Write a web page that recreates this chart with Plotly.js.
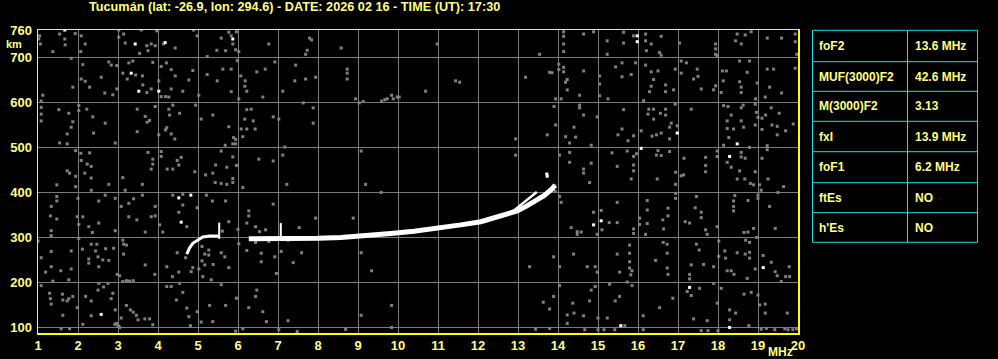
<!DOCTYPE html>
<html>
<head>
<meta charset="utf-8">
<script src="https://cdn.plot.ly/plotly-3.0.1.min.js"></script>
<style>html,body{margin:0;padding:0;background:#000;}</style>
</head>
<body>
<div id="chart" style="width:998px;height:359px;"></div>
<script>
// ---------- data ----------
const titleText = "Tucumán (lat: -26.9, lon: 294.6) - DATE: 2026 02 16 - TIME (UT): 17:30";
const xTicks = [1,2,3,4,5,6,7,8,9,10,11,12,13,14,15,16,17,18,19,20];
const yTicks = [100,200,300,400,500,600,700,760];

const tableLabels = ["foF2", "MUF(3000)F2", "M(3000)F2", "fxI", "foF1", "ftEs", "h'Es"];
const tableValues = ["13.6 MHz", "42.6 MHz", "3.13", "13.9 MHz", "6.2 MHz", "NO", "NO"];

// echo traces (frequency MHz, virtual height km)
const f1Freq   = [4.72, 4.79, 4.87, 5.00, 5.12, 5.29, 5.52];
const f1Height = [262, 276, 286, 294, 300, 302, 302];
const spike1Freq = [5.53, 5.53];
const spike1Height = [296, 332];
const f2Freq   = [6.27, 6.8, 7.32, 8.0, 8.57, 9.23, 9.82, 10.4, 10.98, 11.57, 12.07, 12.57, 12.98, 13.2, 13.45, 13.65, 13.85, 13.93];
const f2Height = [296, 296, 297, 297, 299, 303, 308, 313, 319, 327, 334, 346, 358, 368, 381, 392, 407, 415];
const f2bFreq   = [12.8, 13.07, 13.22, 13.47];
const f2bHeight = [352, 371, 383, 400];
const spike2Freq = [7.07, 7.07];
const spike2Height = [296, 331];

// background noise dots [MHz, km]
const noiseTopLeft = [[1.04,747],[1.06,729],[1.02,740],[1.54,751],[1.67,740],[1.68,727],[1.93,752],[1.37,712],[2.08,747],[2.18,729],[2.07,712],[3.02,760],[3.02,744],[3.14,751],[3.18,731],[3.58,760],[3.54,708],[3.72,725],[3.75,714],[3.83,729],[3.93,725],[3.97,758],[4.14,729],[4.43,720],[4.89,760],[4.98,747],[5.47,715],[5.58,742],[5.69,714],[5.77,755],[5.83,747],[5.87,729],[5.94,716],[6.02,712],[5.96,756],[6.77,729],[5.23,701],[1.83,697],
[2.12,683],[2.77,689],[2.83,682],[2.97,681],[3.27,687],[3.37,691],[3.87,688],[4.21,687],[4.08,679],[3.12,664],[3.44,660],[3.61,658],[3.23,651],[2.08,651],[2.18,646],[2.29,633],[2.58,655],[1.87,633],[2.67,620],[2.87,616],[2.97,629],[3.62,638],[3.83,629],[3.72,621],[4.02,647],[4.08,612],[4.19,612],[4.27,611],[4.33,629],[4.33,672],[4.43,658],[4.62,624],[4.77,649],[4.87,670],[5.02,615],[5.23,661],[5.48,647],[5.62,673],[5.83,673],[5.83,623],[6.07,658],[6.18,647],[6.17,635],[6.22,624],[6.47,667],[6.68,673],[6.62,611],[6.92,689],[7.12,624],[1.12,615],[1.08,602],[5.98,692],[6.02,607],
[1.08,588],[1.08,573],[1.08,558],[1.52,583],[1.77,575],[1.87,556],[1.83,544],[1.73,529],[1.54,509],[1.73,507],[2.02,592],[2.02,581],[2.22,584],[2.37,567],[2.39,531],[2.68,553],[2.93,509],[3.48,584],[3.48,534],[3.68,568],[3.79,559],[3.73,555],[3.93,590],[4.02,527],[4.22,543],[4.19,538],[4.33,529],[4.42,518],[4.27,584],[4.29,571],[4.37,593],[4.54,575],[4.94,593],[5.08,562],[5.37,571],[5.77,545],[5.89,521],[5.94,517],[6.12,523],[6.08,540],[6.22,583],[6.33,584],[6.17,562],[6.38,558],[6.22,540],[6.43,540],[5.94,507],[5.87,507],[5.68,504],[6.88,567],[7.02,562],
[1.94,492],[2.07,486],[2.29,487],[2.23,462],[2.08,470],[2.33,457],[2.17,442],[1.73,447],[1.79,442],[1.94,435],[2.33,431],[3.12,432],[3.75,488],[3.87,473],[3.87,462],[3.83,451],[4.08,490],[4.08,479],[4.23,451],[4.37,451],[4.58,477],[4.48,470],[4.52,460],[4.92,445],[5.19,438],[5.44,460],[5.58,491],[5.72,455],[5.37,442],[5.87,478],[5.96,459],[5.87,430],[6.52,473],[6.88,469],[7.12,482],[7.17,500]];

const noiseBottomLeft = [[1.47,416],[1.94,412],[2.33,404],[2.77,417],[3.18,404],[3.61,417],[5.43,421],[5.58,419],[5.72,417],[5.87,421],[6.12,410],[7.22,417],
[1.47,390],[1.47,380],[1.33,368],[1.31,347],[1.47,340],[1.33,314],[1.33,303],[2.00,386],[1.98,345],[2.02,328],[2.12,345],[2.27,323],[2.36,310],[2.52,331],[2.52,380],[2.68,393],[2.93,386],[2.93,314],[3.08,368],[3.27,375],[3.39,385],[3.27,345],[3.47,338],[3.61,393],[3.68,311],[3.83,345],[3.93,368],[3.93,347],[4.04,327],[4.12,311],[4.37,393],[4.62,395],[4.62,371],[4.52,355],[4.72,323],[4.98,365],[5.21,393],[5.36,380],[5.69,380],[5.77,334],[5.61,313],[6.00,317],[6.22,331],[6.27,358],[6.27,347],[6.44,323],[6.54,312],[6.69,316],[6.88,373],
[1.00,291],[1.33,268],[1.08,254],[1.19,222],[1.33,234],[1.37,202],[1.57,225],[1.77,205],[1.83,269],[1.83,229],[2.02,297],[2.11,273],[2.27,251],[2.27,242],[2.33,284],[2.47,284],[2.50,256],[2.44,269],[2.52,234],[2.62,249],[2.69,274],[2.77,248],[2.89,275],[2.98,217],[3.12,293],[3.14,284],[3.21,282],[3.14,262],[3.04,214],[3.21,203],[3.38,203],[3.68,238],[3.92,217],[4.22,234],[4.36,212],[4.48,265],[4.52,222],[4.69,254],[4.83,223],[4.87,232],[5.02,229],[5.10,279],[5.10,247],[5.12,212],[5.27,271],[5.27,260],[5.17,262],[5.17,238],[5.33,205],[5.38,239],[5.58,265],[5.67,256],[5.77,232],[6.02,285],[6.22,270],[6.44,288],[6.58,264],[6.58,245],[6.77,290],[6.92,256],[6.96,219],[7.08,268],[7.25,293],
[1.08,192],[1.29,175],[1.31,163],[1.33,151],[1.61,173],[1.62,160],[1.77,163],[1.73,158],[1.87,168],[1.98,143],[2.19,168],[2.33,158],[2.50,182],[2.52,197],[2.64,189],[2.87,175],[2.83,163],[2.75,197],[2.93,138],[2.33,125],[1.62,126],[2.12,106],[2.96,108],[3.08,120],[3.21,148],[3.31,138],[3.38,133],[3.46,126],[3.50,116],[3.67,118],[3.79,118],[3.87,105],[3.12,201],[3.29,202],[4.22,190],[4.33,190],[4.54,197],[4.62,177],[4.46,160],[4.72,142],[4.77,123],[4.81,103],[4.98,134],[5.08,111],[5.29,148],[5.37,112],[5.58,194],[5.69,148],[5.96,164],[6.27,143],[6.44,168],[6.47,182],[6.62,134],[6.71,112],[7.02,94],[7.25,114],[6.12,96],[5.94,91],[1.79,96],[1.58,96],[3.00,103],[2.92,106],[3.04,99],[3.02,101]];

const noiseMiddle = [[7.79,742],[7.84,738],[7.73,715],[7.69,706],[8.58,720],[10.98,729],[13.54,706],[7.44,682],[7.42,647],[7.69,651],[7.94,655],[8.73,673],[8.73,664],[8.73,651],[8.94,607],[9.03,598],[9.13,601],[9.59,602],[9.67,605],[9.73,607],[9.84,615],[9.88,607],[9.98,611],[10.03,611],[10.69,624],[11.44,647],[11.54,644],[13.19,655],[7.63,598],[7.88,587],[7.88,553],[9.08,491],[12.94,518],[12.94,482],
[9.19,417],[9.58,399],[7.94,342],[8.88,342],[7.53,321],[7.59,265],[7.38,243],[9.08,265],[9.34,225],[13.29,234],[9.84,148],[9.08,126],[8.69,95],[9.84,99],[13.44,95],[13.63,155],[7.48,90]];

const noiseTopRight = [[14.14,756],[14.14,746],[14.14,729],[14.14,712],[14.64,751],[14.89,756],[15.23,736],[15.23,706],[15.64,755],[15.64,731],[15.89,747],[16.19,751],[16.19,736],[16.33,729],[16.21,714],[16.58,746],[16.54,710],[16.58,704],[17.04,731],[17.94,729],[17.94,718],[17.94,706],[17.98,703],[18.48,751],[18.44,736],[18.68,749],[18.83,756],[18.58,729],[19.23,742],[19.59,742],[19.93,751],[19.93,734],[19.97,706],
[13.79,666],[14.02,684],[14.02,672],[14.14,677],[14.14,667],[14.19,644],[14.23,650],[14.23,627],[14.54,615],[14.64,669],[15.04,658],[15.04,640],[15.04,614],[15.25,607],[15.44,678],[15.60,687],[15.60,656],[15.83,661],[15.94,687],[16.19,682],[16.33,667],[16.39,650],[16.29,623],[16.33,635],[16.50,669],[16.69,638],[16.69,623],[16.89,627],[16.93,673],[17.08,691],[17.08,664],[17.21,687],[17.39,651],[17.48,673],[17.50,657],[17.58,629],[17.89,627],[17.94,636],[18.11,669],[18.21,669],[18.08,621],[18.13,647],[18.54,691],[18.54,645],[18.58,633],[18.58,621],[18.73,666],[18.79,691],[18.98,642],[18.94,607],[19.23,673],[19.39,673],[19.29,633],[19.18,611],[19.59,620],[19.93,675],[16.14,603],[13.94,607],[14.08,607],[13.85,665],
[13.90,590],[13.94,549],[13.73,527],[14.19,523],[14.29,509],[14.44,522],[14.40,544],[14.54,593],[14.54,587],[14.64,571],[14.83,504],[14.98,567],[15.64,583],[15.60,540],[15.50,527],[15.75,514],[15.89,525],[16.08,536],[16.25,573],[16.27,584],[16.39,584],[16.39,562],[16.56,575],[16.69,584],[16.69,571],[16.83,553],[16.79,544],[16.79,518],[16.58,531],[16.35,524],[16.46,527],[16.98,547],[16.93,595],[17.33,584],[18.14,592],[18.25,590],[18.33,571],[18.23,558],[18.23,541],[18.39,540],[18.27,521],[18.14,504],[18.58,587],[18.63,593],[18.58,558],[18.64,544],[18.93,595],[18.96,577],[18.93,549],[19.00,566],[19.10,564],[19.10,539],[19.19,571],[19.33,587],[19.35,549],[19.48,546],[19.48,527],[19.69,536],[19.53,575],[19.88,551],[18.79,499],
[14.04,482],[14.29,488],[14.29,466],[14.64,451],[14.64,442],[14.83,464],[15.35,487],[15.48,457],[15.73,491],[15.89,479],[15.89,460],[15.89,447],[15.96,485],[16.50,492],[16.58,481],[16.46,482],[16.79,490],[16.94,444],[17.08,436],[17.14,438],[17.15,475],[17.69,477],[17.69,459],[17.69,445],[17.98,491],[17.98,479],[18.23,466],[18.33,455],[18.58,488],[18.58,478],[18.68,475],[18.54,447],[18.93,445],[19.10,475],[19.23,503],[19.23,494],[18.48,429],[18.67,429],[19.25,429],[16.48,429],[15.83,429]];

const noiseBottomRight = [[14.79,421],[16.94,417],[16.94,397],[16.94,386],[17.46,390],[17.43,365],[17.58,355],[17.58,343],[17.18,334],[17.29,331],[17.69,316],[17.73,306],[17.98,323],[18.42,392],[18.39,380],[18.39,368],[18.39,358],[18.75,381],[18.65,310],[18.75,311],[18.89,319],[19.00,393],[19.00,386],[19.04,416],[19.08,404],[18.81,419],[18.89,416],[19.43,319],[19.64,412],[19.50,399],[19.29,368],[14.08,377],[14.33,321],[14.48,312],[14.48,306],[14.58,311],[14.89,355],[15.08,359],[15.28,332],[15.48,377],[15.48,332],[15.10,316],[14.98,306],[15.89,318],[15.89,308],[16.04,342],[16.04,328],[16.23,330],[16.19,306],[16.23,381],[16.23,360],[16.62,338],[16.64,318],[16.75,364],[16.75,347],[13.93,401],[13.92,414],[14.04,390],
[13.89,256],[14.04,234],[14.39,262],[14.73,234],[14.93,234],[14.98,222],[15.54,222],[15.48,262],[15.79,282],[15.79,264],[15.79,245],[15.79,231],[15.82,216],[15.85,225],[16.44,248],[16.63,288],[16.73,284],[16.73,264],[16.73,231],[16.75,217],[17.46,284],[17.53,271],[17.33,238],[17.29,217],[17.29,207],[17.64,239],[17.89,234],[18.02,291],[18.02,257],[18.17,269],[18.19,253],[18.23,225],[18.33,225],[18.40,217],[18.48,265],[18.69,293],[18.79,288],[18.68,262],[18.79,266],[18.79,253],[18.93,229],[18.73,208],[19.13,259],[19.33,244],[19.43,223],[19.48,214],[19.69,212],[19.79,212],[19.78,234],[19.58,201],[18.97,299],
[13.89,168],[13.79,140],[14.04,192],[14.23,127],[14.23,108],[14.37,153],[14.40,131],[14.64,125],[14.79,158],[14.83,182],[14.93,190],[15.00,120],[15.23,120],[15.29,195],[15.43,158],[15.54,168],[15.67,103],[15.85,192],[15.73,200],[16.13,125],[16.54,143],[16.87,164],[17.23,179],[17.33,170],[17.39,118],[17.54,186],[17.73,114],[17.89,197],[17.98,153],[18.08,186],[18.29,138],[18.29,116],[18.44,131],[18.65,173],[18.77,103],[18.83,177],[19.00,171],[19.04,149],[19.18,151],[19.18,131],[19.73,131],[19.67,96],[19.75,94],[19.87,94],[19.96,96],[19.42,94],[19.21,97],[19.08,95],[13.79,97],[14.67,94],[15.00,94],[15.15,94],[15.42,94],[16.13,94],[17.58,92],[17.75,92],[18.00,92]];

const whiteDots = [[1.67,760],[3.43,729],[4.18,732],[5.87,740],[3.33,664],[3.52,624],[4.02,624],[4.52,387],[4.82,393],[4.58,333],[2.58,128],[15.98,747],[15.98,734],[16.98,531],[18.48,507],[13.73,435],[13.72,440],[16.08,497],[18.29,479],[14.89,327],[15.08,336],[19.13,232],[15.57,103],[17.29,188],[18.29,99]];

// ---------- drawing ----------
const TXT = '#ffff80';
const FONT = 'Liberation Sans, Arial, sans-serif';
const grayPts = [].concat(noiseTopLeft, noiseBottomLeft, noiseMiddle, noiseTopRight, noiseBottomRight);

const traces = [
  {type:'scatter', mode:'markers', x:grayPts.map(p=>p[0]), y:grayPts.map(p=>p[1]),
   marker:{symbol:'square', size:3, color:'#808080', line:{width:0}}, hoverinfo:'skip', cliponaxis:true},
  {type:'scatter', mode:'markers', x:whiteDots.map(p=>p[0]), y:whiteDots.map(p=>p[1]),
   marker:{symbol:'square', size:3, color:'#ffffff', line:{width:0}}, hoverinfo:'skip'},
  {type:'scatter', mode:'lines', x:f1Freq, y:f1Height, line:{color:'#ffffff', width:3}, hoverinfo:'skip'},
  {type:'scatter', mode:'lines', x:spike1Freq, y:spike1Height, line:{color:'#ffffff', width:2}, hoverinfo:'skip'},
  {type:'scatter', mode:'lines', x:f2Freq, y:f2Height, line:{color:'#ffffff', width:5}, hoverinfo:'skip'},
  {type:'scatter', mode:'lines', x:f2bFreq, y:f2bHeight, line:{color:'#ffffff', width:2.5}, hoverinfo:'skip'},
  {type:'scatter', mode:'lines', x:spike2Freq, y:spike2Height, line:{color:'#ffffff', width:2}, hoverinfo:'skip'}
];

const L = 38, R = 200, T = 30, B = 26, W = 998, H = 359;
const pw = W - L - R, ph = H - T - B;
const xp = px => (px - L) / pw;
const yp = py => (H - B - py) / ph;

const shapes = [];
const annotations = [];
const rowEdges = [30.3, 61.7, 91.3, 121.3, 151.7, 182.7, 212.7, 242.3];
const cyan = '#20e0e0';
shapes.push({type:'rect', xref:'paper', yref:'paper', x0:xp(812.5), x1:xp(977.5), y0:yp(rowEdges[0]), y1:yp(rowEdges[rowEdges.length-1]), line:{color:cyan, width:1}});
shapes.push({type:'line', xref:'paper', yref:'paper', x0:xp(907.5), x1:xp(907.5), y0:yp(rowEdges[0]), y1:yp(rowEdges[rowEdges.length-1]), line:{color:cyan, width:1}});
for (let i = 1; i < rowEdges.length - 1; i++) {
  shapes.push({type:'line', xref:'paper', yref:'paper', x0:xp(812.5), x1:xp(977.5), y0:yp(rowEdges[i]), y1:yp(rowEdges[i]), line:{color:cyan, width:1}});
}
tableLabels.forEach((lab, i) => {
  const cy = (rowEdges[i] + rowEdges[i+1]) / 2;
  annotations.push({xref:'paper', yref:'paper', x:xp(817), y:yp(cy), xanchor:'left', yanchor:'middle', showarrow:false,
    text:lab, font:{family:FONT, size:12, color:TXT, weight:'bold'}});
  annotations.push({xref:'paper', yref:'paper', x:xp(912.5), y:yp(cy), xanchor:'left', yanchor:'middle', showarrow:false,
    text:tableValues[i], font:{family:FONT, size:12, color:TXT, weight:'bold'}});
});
annotations.push({xref:'paper', yref:'paper', x:xp(294), y:yp(7), xanchor:'center', yanchor:'middle', showarrow:false,
  text:titleText, font:{family:FONT, size:12.7, color:TXT, weight:'bold'}});
annotations.push({xref:'paper', yref:'paper', x:xp(14), y:yp(44.5), xanchor:'center', yanchor:'middle', showarrow:false,
  text:'km', font:{family:FONT, size:11, color:TXT, weight:'bold'}});
annotations.push({xref:'paper', yref:'paper', x:xp(780), y:yp(352), xanchor:'center', yanchor:'middle', showarrow:false,
  text:'MHz', font:{family:FONT, size:12, color:TXT, weight:'bold'}});

const axisCommon = {
  showgrid:true, gridcolor:'#7a7a7a', gridwidth:1, zeroline:false,
  showline:true, linecolor:'#ffff00', linewidth:1.5, mirror:true,
  ticks:'', tickfont:{family:FONT, size:13, color:TXT, weight:'bold'}, fixedrange:true
};

const layout = {
  width:W, height:H, showlegend:false,
  paper_bgcolor:'#000', plot_bgcolor:'#000',
  margin:{l:L, r:R, t:T, b:B, pad:0},
  xaxis:Object.assign({}, axisCommon, {range:[1,20], tickmode:'array', tickvals:xTicks, ticktext:xTicks.map(String)}),
  yaxis:Object.assign({}, axisCommon, {range:[86.7,760], tickmode:'array', tickvals:yTicks, ticktext:yTicks.map(String), ticklabelstandoff:2}),
  shapes:shapes, annotations:annotations
};

Plotly.newPlot('chart', traces, layout, {staticPlot:true, displayModeBar:false});
</script>
</body>
</html>
